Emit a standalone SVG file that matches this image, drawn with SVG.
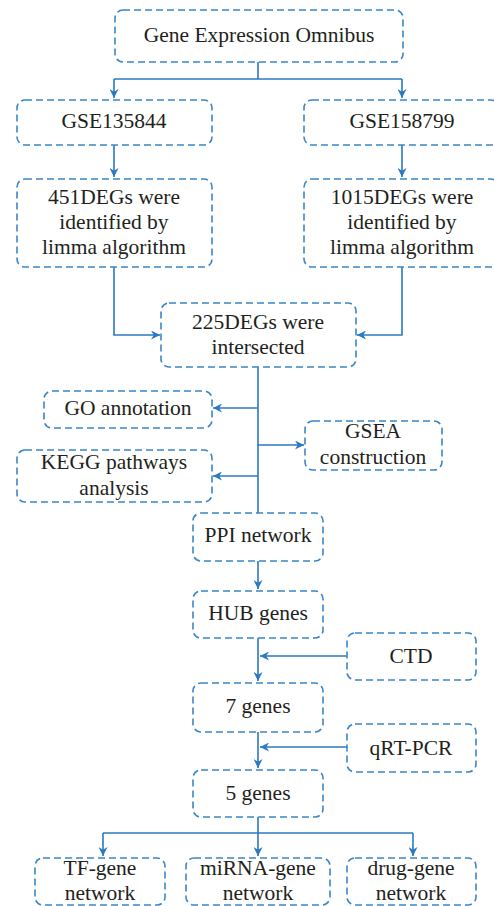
<svg xmlns="http://www.w3.org/2000/svg" width="494" height="906" viewBox="0 0 494 906">
<style>
.box{fill:#fff;stroke:#3a86c8;stroke-width:1.6;stroke-dasharray:7 4}
.t{font-family:"Liberation Serif","Times New Roman",serif;font-size:21.5px;fill:#231f20;text-anchor:middle}
.c{fill:none;stroke:#2b79c2;stroke-width:1.6}
</style>
<defs>
<marker id="ah" viewBox="0 0 10 10" refX="10" refY="5" markerWidth="9" markerHeight="9" markerUnits="userSpaceOnUse" orient="auto">
<path d="M0,0 L10,5 L0,10 L3,5 z" fill="#2b79c2"/>
</marker>
</defs>
<rect width="494" height="906" fill="#fff"/>
<g id="connectors">
<path class="c" d="M258,62 V79 M114,79 H402"/>
<path class="c" d="M114,79 V98" marker-end="url(#ah)"/>
<path class="c" d="M402,79 V98" marker-end="url(#ah)"/>
<path class="c" d="M114,145 V177" marker-end="url(#ah)"/>
<path class="c" d="M402,145 V177" marker-end="url(#ah)"/>
<path class="c" d="M114,267 V335 H160" marker-end="url(#ah)"/>
<path class="c" d="M402,267 V335 H357" marker-end="url(#ah)"/>
<path class="c" d="M258,367 V513"/>
<path class="c" d="M258,408 H213" marker-end="url(#ah)"/>
<path class="c" d="M258,445 H304" marker-end="url(#ah)"/>
<path class="c" d="M258,476 H213" marker-end="url(#ah)"/>
<path class="c" d="M258,561 V589" marker-end="url(#ah)"/>
<path class="c" d="M258,638 V681" marker-end="url(#ah)"/>
<path class="c" d="M347,656 H260" marker-end="url(#ah)"/>
<path class="c" d="M258,732 V768" marker-end="url(#ah)"/>
<path class="c" d="M347,747 H260" marker-end="url(#ah)"/>
<path class="c" d="M258,817 V833 M103,833 H413"/>
<path class="c" d="M103,833 V856" marker-end="url(#ah)"/>
<path class="c" d="M258,833 V856" marker-end="url(#ah)"/>
<path class="c" d="M413,833 V856" marker-end="url(#ah)"/>
</g>
<g id="geo"><rect class="box" x="115" y="10" width="288" height="52" rx="8"/><text class="t" x="259" y="42">Gene Expression Omnibus</text></g>
<g id="gse1"><rect class="box" x="17" y="100" width="195" height="45" rx="8"/><text class="t" x="114" y="128">GSE135844</text></g>
<g id="gse2"><rect class="box" x="304" y="100" width="195" height="45" rx="8"/><text class="t" x="402" y="128">GSE158799</text></g>
<g id="deg451"><rect class="box" x="17" y="179" width="195" height="88" rx="8"/><text class="t" x="114" y="204">451DEGs were</text><text class="t" x="114" y="229">identified by</text><text class="t" x="114" y="254">limma algorithm</text></g>
<g id="deg1015"><rect class="box" x="304" y="179" width="195" height="88" rx="8"/><text class="t" x="402" y="204">1015DEGs were</text><text class="t" x="402" y="229">identified by</text><text class="t" x="402" y="254">limma algorithm</text></g>
<g id="deg225"><rect class="box" x="161" y="303" width="195" height="64" rx="8"/><text class="t" x="258" y="329">225DEGs were</text><text class="t" x="258" y="354">intersected</text></g>
<g id="go"><rect class="box" x="44" y="391" width="168" height="37" rx="8"/><text class="t" x="128" y="415">GO annotation</text></g>
<g id="gsea"><rect class="box" x="305" y="421" width="137" height="49" rx="8"/><text class="t" x="373" y="438">GSEA</text><text class="t" x="373" y="464">construction</text></g>
<g id="kegg"><rect class="box" x="17" y="450" width="195" height="52" rx="8"/><text class="t" x="114" y="469">KEGG pathways</text><text class="t" x="114" y="495">analysis</text></g>
<g id="ppi"><rect class="box" x="193" y="513" width="130" height="48" rx="8"/><text class="t" x="258" y="542">PPI network</text></g>
<g id="hub"><rect class="box" x="193" y="591" width="130" height="47" rx="8"/><text class="t" x="258" y="620">HUB genes</text></g>
<g id="ctd"><rect class="box" x="347" y="633" width="129" height="47" rx="8"/><text class="t" x="411" y="663">CTD</text></g>
<g id="g7"><rect class="box" x="193" y="683" width="130" height="49" rx="8"/><text class="t" x="258" y="713">7 genes</text></g>
<g id="qrt"><rect class="box" x="347" y="724" width="129" height="48" rx="8"/><text class="t" x="411" y="755">qRT-PCR</text></g>
<g id="g5"><rect class="box" x="193" y="770" width="130" height="47" rx="8"/><text class="t" x="258" y="800">5 genes</text></g>
<g id="tf"><rect class="box" x="35" y="858" width="130" height="47" rx="8"/><text class="t" x="100" y="875">TF-gene</text><text class="t" x="100" y="900">network</text></g>
<g id="mirna"><rect class="box" x="186" y="858" width="144" height="47" rx="8"/><text class="t" x="258" y="875">miRNA-gene</text><text class="t" x="258" y="900">network</text></g>
<g id="drug"><rect class="box" x="347" y="858" width="129" height="47" rx="8"/><text class="t" x="411" y="875">drug-gene</text><text class="t" x="411" y="900">network</text></g>
</svg>
